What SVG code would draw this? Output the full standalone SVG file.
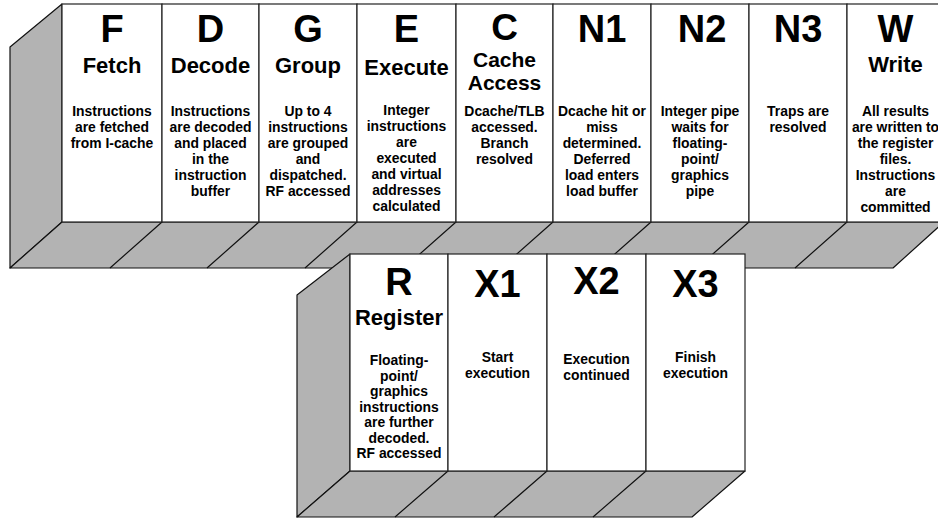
<svg xmlns="http://www.w3.org/2000/svg" width="938" height="518" viewBox="0 0 938 518">
<style>
.slab{fill:#b3b3b3;stroke:#111;stroke-width:1.2;stroke-linejoin:round}
.panel{fill:#fff;stroke:#222;stroke-width:1.2}
.div{stroke:#111;stroke-width:1.2;fill:none}
text{font-family:"Liberation Sans",Arial,Helvetica,sans-serif;font-weight:bold;fill:#000;text-anchor:middle}
.big{font-size:38px}
.big2{font-size:37px}
.title{font-size:22px}
.title2{font-size:21px}
.body{font-size:13.9px}
</style>
<rect width="938" height="518" fill="#fff"/>
<g id="upper-base">
<polygon class="slab" points="62,4 10,47 10,268 62,222"/>
<polygon class="slab" points="62,222 944,222 893,268 10,268"/>
</g>
<g id="connectors">
<path class="div" d="M162,222 L110,268 M259,222 L207,268 M357,222 L305,268 M456,222 L404,268 M553,222 L501,268 M651,222 L599,268 M749,222 L697,268 M847,222 L795,268"/>
</g>
<g id="stage-F">
<rect class="panel" x="62" y="4" width="100" height="218"/>
<text class="big" x="112" y="42">F</text>
<text class="title" x="112" y="73">Fetch</text>
<text class="body"><tspan x="112" y="116">Instructions</tspan><tspan x="112" y="132">are fetched</tspan><tspan x="112" y="148">from I-cache</tspan></text>
</g>
<g id="stage-D">
<rect class="panel" x="162" y="4" width="97" height="218"/>
<text class="big" x="210.5" y="42">D</text>
<text class="title" x="210.5" y="73">Decode</text>
<text class="body"><tspan x="210.5" y="116">Instructions</tspan><tspan x="210.5" y="132">are decoded</tspan><tspan x="210.5" y="148">and placed</tspan><tspan x="210.5" y="164">in the</tspan><tspan x="210.5" y="180">instruction</tspan><tspan x="210.5" y="196">buffer</tspan></text>
</g>
<g id="stage-G">
<rect class="panel" x="259" y="4" width="98" height="218"/>
<text class="big" x="308" y="42">G</text>
<text class="title" x="308" y="73">Group</text>
<text class="body"><tspan x="308" y="116">Up to 4</tspan><tspan x="308" y="132">instructions</tspan><tspan x="308" y="148">are grouped</tspan><tspan x="308" y="164">and</tspan><tspan x="308" y="180">dispatched.</tspan><tspan x="308" y="196">RF accessed</tspan></text>
</g>
<g id="stage-E">
<rect class="panel" x="357" y="4" width="99" height="218"/>
<text class="big" x="406.5" y="42">E</text>
<text class="title" x="406.5" y="75">Execute</text>
<text class="body"><tspan x="406.5" y="115">Integer</tspan><tspan x="406.5" y="131">instructions</tspan><tspan x="406.5" y="147">are</tspan><tspan x="406.5" y="163">executed</tspan><tspan x="406.5" y="179">and virtual</tspan><tspan x="406.5" y="195">addresses</tspan><tspan x="406.5" y="211">calculated</tspan></text>
</g>
<g id="stage-C">
<rect class="panel" x="456" y="4" width="97" height="218"/>
<text class="big2" x="504.5" y="40">C</text>
<text class="title2"><tspan x="504.5" y="67">Cache</tspan><tspan x="504.5" y="90">Access</tspan></text>
<text class="body"><tspan x="504.5" y="116">Dcache/TLB</tspan><tspan x="504.5" y="132">accessed.</tspan><tspan x="504.5" y="148">Branch</tspan><tspan x="504.5" y="164">resolved</tspan></text>
</g>
<g id="stage-N1">
<rect class="panel" x="553" y="4" width="98" height="218"/>
<text class="big" x="602" y="42">N1</text>
<text class="body"><tspan x="602" y="116">Dcache hit or</tspan><tspan x="602" y="132">miss</tspan><tspan x="602" y="148">determined.</tspan><tspan x="602" y="164">Deferred</tspan><tspan x="602" y="180">load enters</tspan><tspan x="602" y="196">load buffer</tspan></text>
</g>
<g id="stage-N2">
<rect class="panel" x="651" y="4" width="98" height="218"/>
<text class="big" x="702" y="42">N2</text>
<text class="body"><tspan x="700" y="116">Integer pipe</tspan><tspan x="700" y="132">waits for</tspan><tspan x="700" y="148">floating-</tspan><tspan x="700" y="164">point/</tspan><tspan x="700" y="180">graphics</tspan><tspan x="700" y="196">pipe</tspan></text>
</g>
<g id="stage-N3">
<rect class="panel" x="749" y="4" width="98" height="218"/>
<text class="big" x="798" y="42">N3</text>
<text class="body"><tspan x="798" y="116">Traps are</tspan><tspan x="798" y="132">resolved</tspan></text>
</g>
<g id="stage-W">
<rect class="panel" x="847" y="4" width="97" height="218"/>
<text class="big" x="895.5" y="42">W</text>
<text class="title" x="895.5" y="72">Write</text>
<text class="body"><tspan x="895.5" y="116">All results</tspan><tspan x="895.5" y="132">are written to</tspan><tspan x="895.5" y="148">the register</tspan><tspan x="895.5" y="164">files.</tspan><tspan x="895.5" y="180">Instructions</tspan><tspan x="895.5" y="196">are</tspan><tspan x="895.5" y="212">committed</tspan></text>
</g>
<g id="lower-base">
<polygon class="slab" points="350,254 297,295 297,517 350,471"/>
<polygon class="slab" points="350,471 745,471 692,517 297,517"/>
</g>
<g id="connectors-lower">
<path class="div" d="M448,471 L395,517 M547,471 L494,517 M646,471 L593,517"/>
</g>
<g id="stage-R">
<rect class="panel" x="350" y="254" width="98" height="217"/>
<text class="big" x="399" y="295">R</text>
<text class="title" x="399" y="325">Register</text>
<text class="body"><tspan x="399" y="365">Floating-</tspan><tspan x="399" y="380.5">point/</tspan><tspan x="399" y="396">graphics</tspan><tspan x="399" y="411.5">instructions</tspan><tspan x="399" y="427">are further</tspan><tspan x="399" y="442.5">decoded.</tspan><tspan x="399" y="458">RF accessed</tspan></text>
</g>
<g id="stage-X1">
<rect class="panel" x="448" y="254" width="99" height="217"/>
<text class="big" x="497.5" y="297">X1</text>
<text class="body"><tspan x="497.5" y="361.5">Start</tspan><tspan x="497.5" y="377.5">execution</tspan></text>
</g>
<g id="stage-X2">
<rect class="panel" x="547" y="254" width="99" height="217"/>
<text class="big" x="596.5" y="294">X2</text>
<text class="body"><tspan x="596.5" y="363.5">Execution</tspan><tspan x="596.5" y="379.5">continued</tspan></text>
</g>
<g id="stage-X3">
<rect class="panel" x="646" y="254" width="99" height="217"/>
<text class="big" x="695.5" y="297">X3</text>
<text class="body"><tspan x="695.5" y="361.5">Finish</tspan><tspan x="695.5" y="377.5">execution</tspan></text>
</g>
</svg>
